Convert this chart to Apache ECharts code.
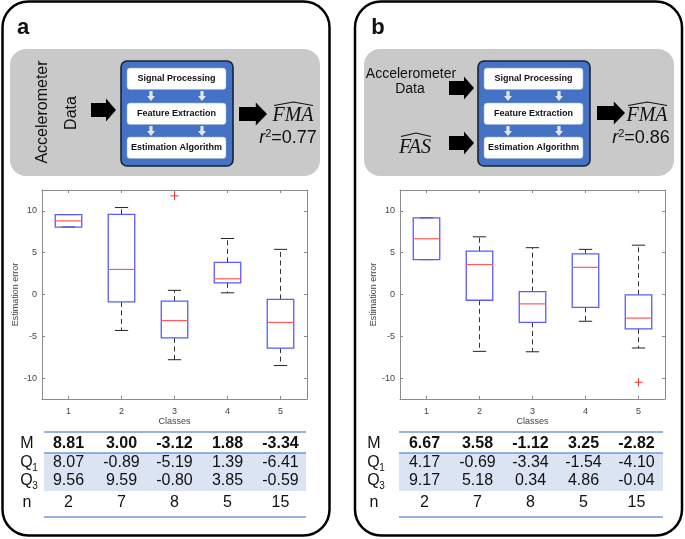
<!DOCTYPE html>
<html><head><meta charset="utf-8">
<script src="https://cdn.jsdelivr.net/npm/echarts@6/dist/echarts.min.js"></script>
<style>html,body{margin:0;padding:0;background:#fff}#c{width:685px;height:539px}</style>
</head><body><div id="c"></div>
<script>
// ---------- data ----------
const classes = ['1', '2', '3', '4', '5'];
const yTicks = [-10, -5, 0, 5, 10];
// panel a
const aMin = [8.07, -4.3, -7.8, 0.2, -8.5];
const aQ1  = [8.07, -0.89, -5.19, 1.39, -6.41];
const aMed = [8.81, 3.00, -3.12, 1.88, -3.34];
const aQ3  = [9.56, 9.59, -0.80, 3.85, -0.59];
const aMax = [9.56, 10.4, 0.5, 6.7, 5.4];
const aOutliers = [[2, 11.8]];
const aR2 = '0.77';
// panel b
const bMin = [4.17, -6.8, -6.85, -3.2, -6.4];
const bQ1  = [4.17, -0.69, -3.34, -1.54, -4.10];
const bMed = [6.67, 3.58, -1.12, 3.25, -2.82];
const bQ3  = [9.17, 5.18, 0.34, 4.86, -0.04];
const bMax = [9.17, 6.9, 5.6, 5.4, 5.9];
const bOutliers = [[4, -10.5]];
const bR2 = '0.86';
// shared
const nCounts = [2, 7, 8, 5, 15];

// ---------- helpers ----------
const SANS = '"Liberation Sans", Arial, sans-serif';
const SERIF = '"Liberation Serif", "Times New Roman", serif';
const gridA = {left: 42, top: 190, width: 265, height: 209};
const gridB = {left: 400, top: 190, width: 265, height: 209};

function boxData(mn, q1, md, q3, mx) {
  return classes.map((c, i) => [i, mn[i], q1[i], md[i], q3[i], mx[i]]);
}

function renderBox(params, api) {
  const x = api.value(0);
  const pMin = api.coord([x, api.value(1)]);
  const pQ1 = api.coord([x, api.value(2)]);
  const pMed = api.coord([x, api.value(3)]);
  const pQ3 = api.coord([x, api.value(4)]);
  const pMax = api.coord([x, api.value(5)]);
  const band = api.size([1, 0])[0];
  const hw = band * 0.25, cw = hw * 0.5, cx = pMed[0];
  const dash = {stroke: '#333', lineWidth: 1, lineDash: [5, 3.5]};
  const solid = {stroke: '#222', lineWidth: 1};
  return {type: 'group', children: [
    {type: 'line', shape: {x1: cx, y1: pQ3[1], x2: cx, y2: pMax[1]}, style: dash},
    {type: 'line', shape: {x1: cx, y1: pQ1[1], x2: cx, y2: pMin[1]}, style: dash},
    {type: 'line', shape: {x1: cx - cw, y1: pMax[1], x2: cx + cw, y2: pMax[1]}, style: solid},
    {type: 'line', shape: {x1: cx - cw, y1: pMin[1], x2: cx + cw, y2: pMin[1]}, style: solid},
    {type: 'rect', shape: {x: cx - hw, y: pQ3[1], width: 2 * hw, height: pQ1[1] - pQ3[1]},
      style: {fill: 'none', stroke: '#5a5aff', lineWidth: 1.3}},
    {type: 'line', shape: {x1: cx - hw, y1: pMed[1], x2: cx + hw, y2: pMed[1]},
      style: {stroke: '#ff5a5a', lineWidth: 1.2}}
  ]};
}
function renderOutlier(params, api) {
  const p = api.coord([api.value(0), api.value(1)]);
  const s = 4, st = {stroke: '#ff3333', lineWidth: 1};
  return {type: 'group', children: [
    {type: 'line', shape: {x1: p[0] - s, y1: p[1], x2: p[0] + s, y2: p[1]}, style: st},
    {type: 'line', shape: {x1: p[0], y1: p[1] - s, x2: p[0], y2: p[1] + s}, style: st}
  ]};
}

function axesFor(gi) {
  const axisLine = {show: true, onZero: false, lineStyle: {color: '#8a8a8a', width: 1}};
  const tick = {show: true, inside: true, length: 3, lineStyle: {color: '#8a8a8a'}};
  const xs = [
    {type: 'category', gridIndex: gi, data: classes, position: 'bottom', boundaryGap: true,
      axisLine, axisTick: Object.assign({alignWithLabel: true}, tick),
      axisLabel: {color: '#444', fontSize: 9, fontFamily: SANS, margin: 8},
      name: 'Classes', nameLocation: 'middle', nameGap: 17,
      nameTextStyle: {color: '#444', fontSize: 9, fontFamily: SANS},
      splitLine: {show: false}},
    {type: 'category', gridIndex: gi, data: classes, position: 'top', boundaryGap: true,
      axisLine, axisTick: Object.assign({alignWithLabel: true}, tick),
      axisLabel: {show: false}, splitLine: {show: false}}
  ];
  const ys = [
    {type: 'value', gridIndex: gi, min: -12.5, max: 12.5, position: 'left',
      axisLine, axisTick: Object.assign({customValues: yTicks}, tick),
      axisLabel: {customValues: yTicks, color: '#444', fontSize: 9, fontFamily: SANS, margin: 5},
      name: 'Estimation error', nameLocation: 'middle', nameGap: 22,
      nameTextStyle: {color: '#444', fontSize: 9, fontFamily: SANS},
      splitLine: {show: false}},
    {type: 'value', gridIndex: gi, min: -12.5, max: 12.5, position: 'right',
      axisLine, axisTick: Object.assign({customValues: yTicks}, tick),
      axisLabel: {show: false}, splitLine: {show: false}}
  ];
  return {xs, ys};
}

// ---------- graphics ----------
const G = [];
function txt(x, y, text, font, opt) {
  G.push(Object.assign({type: 'text', x: x, y: y, z: 5,
    style: {text: text, font: font, fill: '#111', align: 'center', verticalAlign: 'middle'}}, opt || {}));
}
function bigArrow(x0, x1, cy) {
  const xm = x0 + (x1 - x0) * 0.6;
  G.push({type: 'polygon', z: 4, shape: {points: [[x0, cy - 7], [xm, cy - 7], [xm, cy - 11.5], [x1, cy], [xm, cy + 11.5], [xm, cy + 7], [x0, cy + 7]]},
    style: {fill: '#000'}});
}
function smallArrow(cx, y0) {
  G.push({type: 'polygon', z: 4, shape: {points: [[cx - 1.6, y0], [cx + 1.6, y0], [cx + 1.6, y0 + 5], [cx + 4, y0 + 5], [cx, y0 + 10], [cx - 4, y0 + 5], [cx - 1.6, y0 + 5]]},
    style: {fill: '#e4e4e4'}});
}
function hat(x0, x1, y) {
  G.push({type: 'polyline', z: 5, shape: {points: [[x0, y + 3.5], [(x0 + x1) / 2, y], [x1, y + 3.5]]},
    style: {stroke: '#111', lineWidth: 1.1, fill: 'none'}});
}
function processBlock(bx) {
  G.push({type: 'rect', z: 2, shape: {x: bx, y: 61, width: 112, height: 105, r: 6},
    style: {fill: '#4472c4', stroke: '#1b2233', lineWidth: 1.6}});
  const labels = ['Signal Processing', 'Feature Extraction', 'Estimation Algorithm'];
  const ys = [68, 103, 137];
  labels.forEach((l, i) => {
    G.push({type: 'rect', z: 3, shape: {x: bx + 6, y: ys[i], width: 99, height: 21.5, r: 3},
      style: {fill: '#fff', stroke: '#9ab0d8', lineWidth: 0.6}});
    txt(bx + 55.5, ys[i] + 11, l, 'bold 9px ' + SANS, {});
  });
  [bx + 30, bx + 81].forEach(cx => { smallArrow(cx, 91); smallArrow(cx, 126); });
}
function r2Text(cx, cy, val) {
  G.push({type: 'text', x: cx, y: cy, z: 5, style: {
    text: '{i|r}{s|2}{n|=' + val + '}', align: 'center', verticalAlign: 'middle', fill: '#111',
    rich: {
      i: {fontSize: 18, fontStyle: 'italic', fontFamily: SANS, fill: '#111', lineHeight: 20},
      s: {fontSize: 11, fontFamily: SANS, fill: '#111', verticalAlign: 'top', lineHeight: 20, padding: [0, 0, 8, 0]},
      n: {fontSize: 18, fontFamily: SANS, fill: '#111', lineHeight: 20}
    }}});
}
function table(x0, x1, colCenters, labelX, med, q1, q3, n) {
  G.push({type: 'rect', z: 1, shape: {x: x0, y: 453, width: x1 - x0, height: 38}, style: {fill: '#dbe4f3'}});
  [432, 453, 517].forEach(y => G.push({type: 'line', z: 2, shape: {x1: x0, y1: y, x2: x1, y2: y},
    style: {stroke: '#7499d6', lineWidth: 1.6}}));
  txt(labelX, 444, 'M', '16px ' + SANS);
  txt(labelX - 0.5, 463, 'Q', '16px ' + SANS);
  txt(labelX + 8, 468, '1', '10px ' + SANS);
  txt(labelX - 0.5, 481, 'Q', '16px ' + SANS);
  txt(labelX + 8, 486, '3', '10px ' + SANS);
  txt(labelX, 503, 'n', '16px ' + SANS);
  colCenters.forEach((cx, i) => {
    txt(cx, 444, med[i].toFixed(2), 'bold 16px ' + SANS);
    txt(cx, 463, q1[i].toFixed(2), '16px ' + SANS);
    txt(cx, 481, q3[i].toFixed(2), '16px ' + SANS);
    txt(cx, 503, String(n[i]), '16px ' + SANS);
  });
}

// panel frames
G.push({type: 'rect', z: 0, shape: {x: 2.5, y: 1.5, width: 327, height: 534, r: 26}, style: {fill: '#fff', stroke: '#000', lineWidth: 2.5}});
G.push({type: 'rect', z: 0, shape: {x: 355, y: 1.5, width: 327, height: 534, r: 26}, style: {fill: '#fff', stroke: '#000', lineWidth: 2.5}});
// grey diagram areas
G.push({type: 'rect', z: 1, shape: {x: 10, y: 49, width: 310, height: 127, r: 16}, style: {fill: '#c9c9c9'}});
G.push({type: 'rect', z: 1, shape: {x: 364, y: 49, width: 310, height: 127, r: 16}, style: {fill: '#c9c9c9'}});

// panel a diagram
txt(23, 28, 'a', 'bold 22px ' + SANS);
txt(43, 112, 'Accelerometer', '16px ' + SANS, {rotation: Math.PI / 2});
txt(72, 113, 'Data', '16px ' + SANS, {rotation: Math.PI / 2});
bigArrow(91, 116, 110);
processBlock(121);
bigArrow(239, 267, 114);
txt(293, 116, 'FMA', 'italic 20px ' + SERIF);
hat(274, 313, 102);
r2Text(288, 138, aR2);

// panel b diagram
txt(378, 28, 'b', 'bold 22px ' + SANS);
txt(411, 74, 'Accelerometer', '14px ' + SANS);
txt(410, 89, 'Data', '14px ' + SANS);
bigArrow(449, 474, 88);
bigArrow(449, 474, 143);
txt(415, 148, 'FAS', 'italic 20px ' + SERIF);
hat(401, 431, 133);
processBlock(478);
bigArrow(597, 625, 113);
txt(647, 116, 'FMA', 'italic 20px ' + SERIF);
hat(628, 667, 102);
r2Text(641, 138, bR2);

// tables
const colsA = classes.map((c, i) => gridA.left + (i + 0.5) * gridA.width / classes.length);
const colsB = classes.map((c, i) => gridB.left + (i + 0.5) * gridB.width / classes.length - 2);
table(44, 306, colsA, 27, aMed, aQ1, aQ3, nCounts);
table(399, 663, colsB, 374, bMed, bQ1, bQ3, nCounts);

// ---------- chart ----------
const axA = axesFor(0), axB = axesFor(1);
const option = {
  animation: false,
  backgroundColor: '#fff',
  grid: [Object.assign({containLabel: false}, gridA), Object.assign({containLabel: false}, gridB)],
  xAxis: axA.xs.concat(axB.xs),
  yAxis: axA.ys.concat(axB.ys),
  graphic: {elements: G},
  series: [
    {type: 'custom', name: 'a', xAxisIndex: 0, yAxisIndex: 0, z: 10, renderItem: renderBox,
      encode: {x: 0, y: [1, 2, 3, 4, 5]}, data: boxData(aMin, aQ1, aMed, aQ3, aMax)},
    {type: 'custom', name: 'a-out', xAxisIndex: 0, yAxisIndex: 0, z: 10, renderItem: renderOutlier,
      encode: {x: 0, y: 1}, data: aOutliers},
    {type: 'custom', name: 'b', xAxisIndex: 2, yAxisIndex: 2, z: 10, renderItem: renderBox,
      encode: {x: 0, y: [1, 2, 3, 4, 5]}, data: boxData(bMin, bQ1, bMed, bQ3, bMax)},
    {type: 'custom', name: 'b-out', xAxisIndex: 2, yAxisIndex: 2, z: 10, renderItem: renderOutlier,
      encode: {x: 0, y: 1}, data: bOutliers}
  ]
};
const chart = echarts.init(document.getElementById('c'), null, {renderer: 'canvas'});
chart.setOption(option);
</script>
</body></html>
